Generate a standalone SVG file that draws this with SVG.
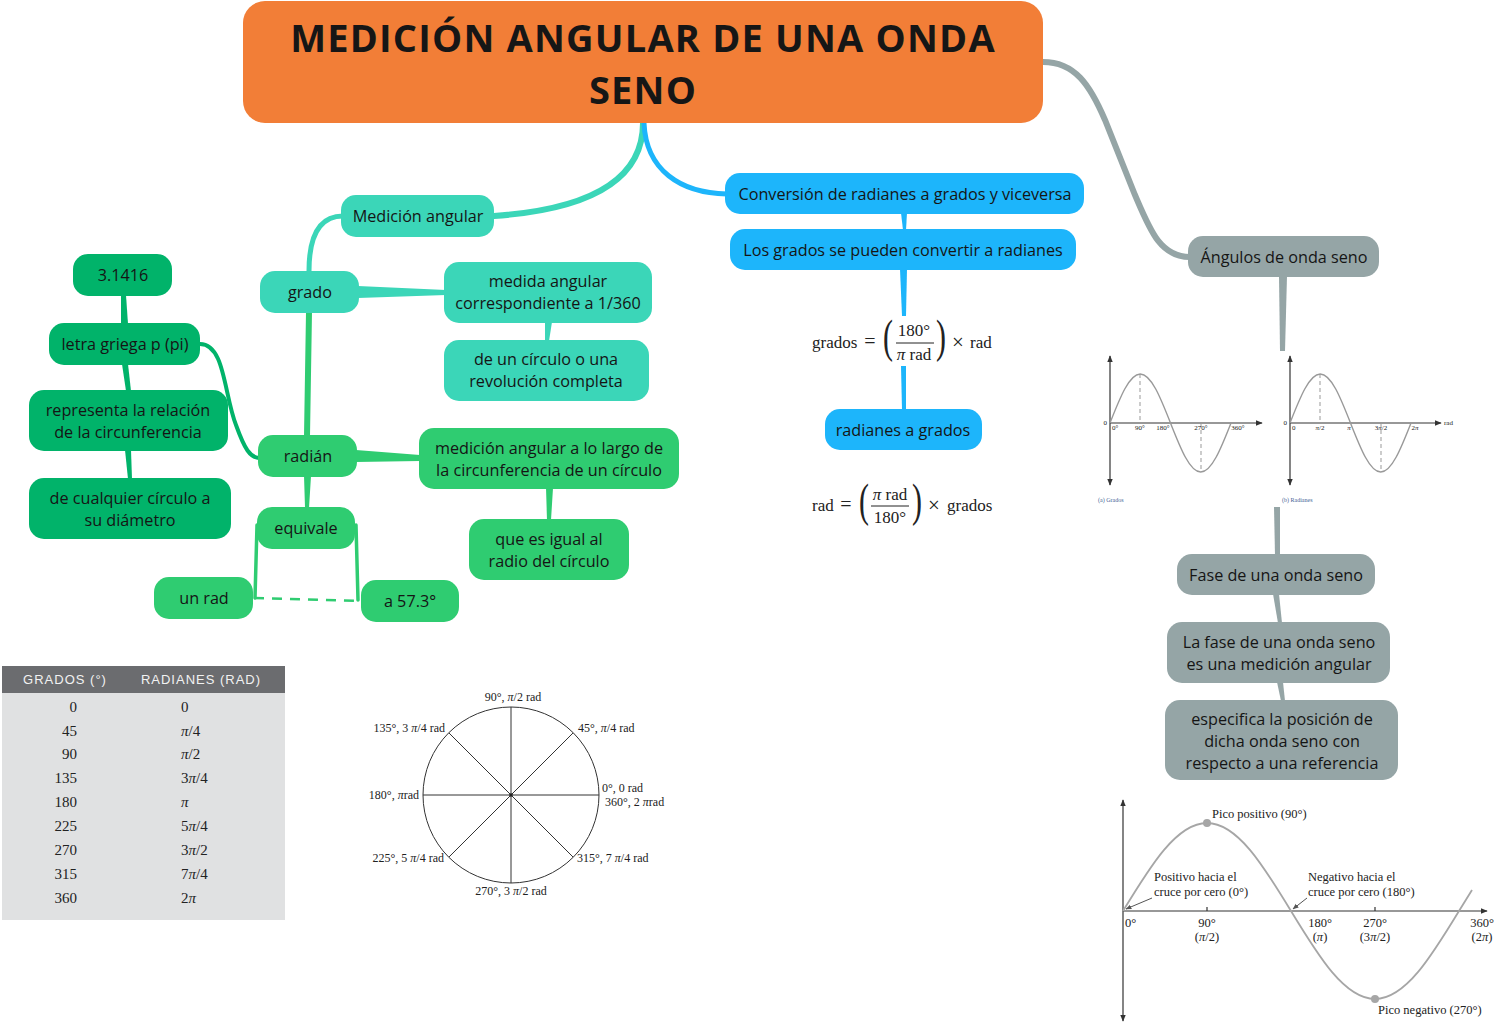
<svg xmlns="http://www.w3.org/2000/svg" width="1497" height="1025" viewBox="0 0 1497 1025">
<defs>
<style>
.n{font-family:"Open Sans","Liberation Sans",sans-serif;font-size:16.2px;fill:#151515;text-anchor:middle}
.teal{fill:#3BD6B8}.green{fill:#2FCC71}.dk{fill:#01B36A}.blue{fill:#1DB5FB}.gray{fill:#95A5A6}
.c{fill:none;stroke-linecap:round}
.s{font-family:"Liberation Serif","Times New Roman",serif;fill:#222}
.ax{stroke:#333;stroke-width:1.2;fill:none}
.sw{stroke:#999;stroke-width:1.4;fill:none}
.dash{stroke:#999;stroke-width:1;stroke-dasharray:4,3;fill:none}
</style>
<marker id="ar" viewBox="0 0 10 10" refX="9" refY="5" markerWidth="6" markerHeight="6" orient="auto-start-reverse"><path d="M0,1 L10,5 L0,9 Z" fill="#333"/></marker>
<marker id="ag" viewBox="0 0 10 10" refX="9" refY="5" markerWidth="6" markerHeight="6" orient="auto"><path d="M0,1 L10,5 L0,9 Z" fill="#555"/></marker>
</defs>
<rect width="1497" height="1025" fill="#fff"/>

<g id="connectors">
<path class="c" d="M643,123 C643,185 580,210 494,216" stroke="#3BD6B8" stroke-width="6"/>
<path class="c" d="M644,123 C646,170 680,193 727,194" stroke="#1DB5FB" stroke-width="5"/>
<path class="c" d="M1043,62 C1075,62 1090,85 1105,120 L1135,195 C1150,230 1160,257 1190,257" stroke="#95A5A6" stroke-width="6"/>
<path class="c" d="M343,216 C320,216 309,235 309,271" stroke="#3BD6B8" stroke-width="5"/>
<path d="M358,286 L446,290 L446,295 L358,298 Z" fill="#3BD6B8"/>
<path d="M545,322 L552,322 L549,341 L545,341 Z" fill="#3BD6B8"/>
<path class="c" d="M309,312 L307,436" stroke="#2FCC71" stroke-width="6"/>
<path d="M356,450 L420,455 L420,461 L356,462 Z" fill="#2FCC71"/>
<path d="M546,488 L553,488 L551,520 L547,520 Z" fill="#2FCC71"/>
<path d="M304,476 L311,476 L309,508 L305,508 Z" fill="#2FCC71"/>
<path class="c" d="M257,525 L255,598" stroke="#2FCC71" stroke-width="3.5"/>
<path class="c" d="M356,525 L358,600" stroke="#2FCC71" stroke-width="3.5"/>
<path d="M254,598 L361,601" stroke="#2FCC71" stroke-width="2.5" stroke-dasharray="10,8" fill="none"/>
<path class="c" d="M200,344 C225,344 224,395 236,425 C245,450 250,457 259,458" stroke="#01B36A" stroke-width="4"/>
<path d="M121,295 L126,295 L128,324 L121,324 Z" fill="#01B36A"/>
<path d="M122,364 L128,364 L131,391 L126,391 Z" fill="#01B36A"/>
<path d="M125,450 L131,450 L132,479 L128,479 Z" fill="#01B36A"/>
<path d="M901,213 L907,213 L906,230 L903,230 Z" fill="#1DB5FB"/>
<path d="M900,269 L907,269 L906,316 L902,316 Z" fill="#1DB5FB"/>
<path d="M901,366 L906,366 L906,410 L902,410 Z" fill="#1DB5FB"/>
<path d="M1279,276 L1287,276 L1285,351 L1280,351 Z" fill="#95A5A6"/>
<path d="M1274,507 L1280,507 L1280,555 L1275,555 Z" fill="#95A5A6"/>
<path d="M1273,594 L1279,594 L1282,623 L1278,623 Z" fill="#95A5A6"/>
<path d="M1277,682 L1283,682 L1285,701 L1281,701 Z" fill="#95A5A6"/>
</g>

<g id="title">
<rect x="243" y="1" width="800" height="122" rx="22" fill="#F27E37"/>
<text font-family="'Open Sans','Liberation Sans',sans-serif" font-weight="bold" font-size="38" letter-spacing="1.2" fill="#161616" text-anchor="middle"><tspan x="643" y="52">MEDICIÓN ANGULAR DE UNA ONDA</tspan><tspan x="643" y="104">SENO</tspan></text>
</g>

<g id="n-medicion"><rect class="teal" x="341" y="195" width="153" height="42" rx="15"/><text class="n" x="418" y="222">Medición angular</text></g>
<g id="n-grado"><rect class="teal" x="260" y="271" width="99" height="42" rx="15"/><text class="n" x="310" y="298">grado</text></g>
<g id="n-medida"><rect class="teal" x="444" y="262" width="208" height="61" rx="15"/><text class="n"><tspan x="548" y="287">medida angular</tspan><tspan x="548" y="309.2">correspondiente a 1/360</tspan></text></g>
<g id="n-circulo"><rect class="teal" x="444" y="340" width="205" height="61" rx="15"/><text class="n"><tspan x="546" y="365">de un círculo o una</tspan><tspan x="546" y="387.2">revolución completa</tspan></text></g>

<g id="n-radian"><rect class="green" x="258" y="435" width="99" height="42" rx="15"/><text class="n" x="308" y="462">radián</text></g>
<g id="n-medlargo"><rect class="green" x="419" y="428" width="260" height="61" rx="15"/><text class="n"><tspan x="549" y="454">medición angular a lo largo de</tspan><tspan x="549" y="476.2">la circunferencia de un círculo</tspan></text></g>
<g id="n-igual"><rect class="green" x="469" y="519" width="160" height="61" rx="15"/><text class="n"><tspan x="549" y="545">que es igual al</tspan><tspan x="549" y="567.2">radio del círculo</tspan></text></g>
<g id="n-equivale"><rect class="green" x="257" y="507" width="98" height="42" rx="15"/><text class="n" x="306" y="534">equivale</text></g>
<g id="n-unrad"><rect class="green" x="154" y="577" width="99" height="42" rx="15"/><text class="n" x="204" y="604">un rad</text></g>
<g id="n-573"><rect class="green" x="361" y="580" width="98" height="42" rx="15"/><text class="n" x="410" y="607">a 57.3°</text></g>

<g id="n-31416"><rect class="dk" x="73" y="254" width="99" height="42" rx="15"/><text class="n" x="123" y="281">3.1416</text></g>
<g id="n-letra"><rect class="dk" x="49" y="323" width="151" height="42" rx="15"/><text class="n" x="125" y="350">letra griega p (pi)</text></g>
<g id="n-representa"><rect class="dk" x="29" y="390" width="199" height="61" rx="15"/><text class="n"><tspan x="128" y="416">representa la relación</tspan><tspan x="128" y="438.2">de la circunferencia</tspan></text></g>
<g id="n-cualquier"><rect class="dk" x="29" y="478" width="202" height="61" rx="15"/><text class="n"><tspan x="130" y="504">de cualquier círculo a</tspan><tspan x="130" y="526.2">su diámetro</tspan></text></g>

<g id="n-conversion"><rect class="blue" x="725" y="173" width="359" height="41" rx="15"/><text class="n" x="905" y="200">Conversión de radianes a grados y viceversa</text></g>
<g id="n-losgrados"><rect class="blue" x="730" y="229" width="346" height="41" rx="15"/><text class="n" x="903" y="256">Los grados se pueden convertir a radianes</text></g>
<g id="n-radgrados"><rect class="blue" x="825" y="409" width="157" height="41" rx="15"/><text class="n" x="903" y="436">radianes a grados</text></g>

<g id="n-angulos"><rect class="gray" x="1188" y="236" width="191" height="41" rx="15"/><text class="n" x="1284" y="263">Ángulos de onda seno</text></g>
<g id="n-fase"><rect class="gray" x="1177" y="554" width="198" height="41" rx="15"/><text class="n" x="1276" y="581">Fase de una onda seno</text></g>
<g id="n-lafase"><rect class="gray" x="1167" y="622" width="223" height="61" rx="15"/><text class="n"><tspan x="1279" y="648">La fase de una onda seno</tspan><tspan x="1279" y="670.2">es una medición angular</tspan></text></g>
<g id="n-especifica"><rect class="gray" x="1165" y="700" width="233" height="80" rx="15"/><text class="n"><tspan x="1282" y="725">especifica la posición de</tspan><tspan x="1282" y="747.2">dicha onda seno con</tspan><tspan x="1282" y="769.4">respecto a una referencia</tspan></text></g>

<g id="formula1" class="s" font-size="17">
<text x="812" y="348">grados</text>
<text x="870" y="348" text-anchor="middle" font-size="20">=</text>
<text transform="translate(883,352) scale(0.65,1)" font-size="46">(</text>
<text text-anchor="middle"><tspan x="914" y="336">180°</tspan><tspan x="914" y="360"><tspan font-style="italic">π</tspan> rad</tspan></text>
<line x1="896" y1="343" x2="934" y2="343" stroke="#222" stroke-width="1"/>
<text transform="translate(936,352) scale(0.65,1)" font-size="46">)</text>
<text x="952" y="349" font-size="21">×</text>
<text x="970" y="348">rad</text>
</g>
<g id="formula2" class="s" font-size="17">
<text x="812" y="511">rad</text>
<text x="846" y="511" text-anchor="middle" font-size="20">=</text>
<text transform="translate(859,516) scale(0.65,1)" font-size="46">(</text>
<text text-anchor="middle"><tspan x="890" y="500"><tspan font-style="italic">π</tspan> rad</tspan><tspan x="890" y="523">180°</tspan></text>
<line x1="871" y1="506" x2="909" y2="506" stroke="#222" stroke-width="1"/>
<text transform="translate(912,516) scale(0.65,1)" font-size="46">)</text>
<text x="928" y="512" font-size="21">×</text>
<text x="947" y="511">grados</text>
</g>

<g id="graph-grados">
<line class="ax" x1="1110" y1="485" x2="1110" y2="356" marker-end="url(#ar)" marker-start="url(#ar)"/>
<line class="ax" x1="1110" y1="423" x2="1262" y2="423" marker-end="url(#ar)"/>
<path class="sw" d="M1110,423 C1119.9,397.9 1129.3,374 1140.25,374 C1151.2,374 1160.6,397.9 1170.5,423 C1180.4,448.1 1189.8,472 1200.75,472 C1211.7,472 1221.1,448.1 1231,423"/>
<line class="dash" x1="1140" y1="374" x2="1140" y2="423"/>
<line class="dash" x1="1201" y1="423" x2="1201" y2="472"/>
<g class="s" font-size="7">
<text x="1107" y="425" text-anchor="end">0</text>
<text x="1112" y="430">0°</text>
<text x="1140" y="430" text-anchor="middle">90°</text>
<text x="1163" y="430" text-anchor="middle">180°</text>
<text x="1201" y="430" text-anchor="middle">270°</text>
<text x="1238" y="430" text-anchor="middle">360°</text>
<text x="1098" y="502" font-size="6" fill="#3f5f95">(a) Grados</text>
</g>
</g>
<g id="graph-radianes">
<line class="ax" x1="1290" y1="485" x2="1290" y2="356" marker-end="url(#ar)" marker-start="url(#ar)"/>
<line class="ax" x1="1290" y1="423" x2="1441" y2="423" marker-end="url(#ar)"/>
<path class="sw" d="M1290,423 C1299.9,397.9 1309.3,374 1320.25,374 C1331.2,374 1340.6,397.9 1350.5,423 C1360.4,448.1 1369.8,472 1380.75,472 C1391.7,472 1401.1,448.1 1411,423"/>
<line class="dash" x1="1320" y1="374" x2="1320" y2="423"/>
<line class="dash" x1="1381" y1="423" x2="1381" y2="472"/>
<g class="s" font-size="7">
<text x="1287" y="425" text-anchor="end">0</text>
<text x="1292" y="430">0</text>
<text x="1320" y="430" text-anchor="middle"><tspan font-style="italic">π</tspan>/2</text>
<text x="1349" y="430" text-anchor="middle" font-style="italic">π</text>
<text x="1381" y="430" text-anchor="middle">3<tspan font-style="italic">π</tspan>/2</text>
<text x="1415" y="430" text-anchor="middle">2<tspan font-style="italic">π</tspan></text>
<text x="1444" y="425">rad</text>
<text x="1282" y="502" font-size="6" fill="#3f5f95">(b) Radianes</text>
</g>
</g>

<g id="graph-fase">
<line class="ax" x1="1123" y1="1021" x2="1123" y2="800" marker-end="url(#ar)" marker-start="url(#ar)"/>
<line class="ax" x1="1123" y1="911" x2="1487" y2="911" marker-end="url(#ar)"/>
<line class="ax" x1="1207" y1="907" x2="1207" y2="911"/>
<line class="ax" x1="1375" y1="907" x2="1375" y2="911"/>
<path d="M1123,911 C1150.4,865.9 1176.6,823 1207,823 C1237.4,823 1263.6,865.9 1291,911 C1318.4,956.1 1344.6,999 1375,999 C1405.4,999 1431.6,956.1 1459,911 L1472,890" fill="none" stroke="#a6a6a6" stroke-width="1.8"/>
<circle cx="1207" cy="823" r="4" fill="#a6a6a6"/>
<circle cx="1375" cy="999" r="4" fill="#a6a6a6"/>
<line x1="1152" y1="898" x2="1126" y2="909" stroke="#555" stroke-width="1" marker-end="url(#ag)"/>
<line x1="1307" y1="898" x2="1293" y2="909" stroke="#555" stroke-width="1" marker-end="url(#ag)"/>
<g class="s" font-size="12.5">
<text x="1212" y="818">Pico positivo (90°)</text>
<text><tspan x="1154" y="881">Positivo hacia el</tspan><tspan x="1154" y="896">cruce por cero (0°)</tspan></text>
<text><tspan x="1308" y="881">Negativo hacia el</tspan><tspan x="1308" y="896">cruce por cero (180°)</tspan></text>
<text x="1125" y="927">0°</text>
<text text-anchor="middle"><tspan x="1207" y="927">90°</tspan><tspan x="1207" y="941">(<tspan font-style="italic">π</tspan>/2)</tspan></text>
<text text-anchor="middle"><tspan x="1320" y="927">180°</tspan><tspan x="1320" y="941">(<tspan font-style="italic">π</tspan>)</tspan></text>
<text text-anchor="middle"><tspan x="1375" y="927">270°</tspan><tspan x="1375" y="941">(3<tspan font-style="italic">π</tspan>/2)</tspan></text>
<text text-anchor="middle"><tspan x="1482" y="927">360°</tspan><tspan x="1482" y="941">(2<tspan font-style="italic">π</tspan>)</tspan></text>
<text x="1378" y="1014">Pico negativo (270°)</text>
</g>
</g>

<g id="table">
<rect x="2" y="666" width="283" height="27" fill="#6B6C6F"/>
<rect x="2" y="693" width="283" height="227" fill="#E0E1E2"/>
<text x="65" y="684" font-family="'Liberation Sans',sans-serif" font-size="13" letter-spacing="1" fill="#f2f2f2" text-anchor="middle">GRADOS (°)</text>
<text x="201" y="684" font-family="'Liberation Sans',sans-serif" font-size="13" letter-spacing="1" fill="#f2f2f2" text-anchor="middle">RADIANES (RAD)</text>
<g class="s" font-size="15">
<g text-anchor="end">
<text x="77" y="712">0</text><text x="77" y="736">45</text><text x="77" y="759">90</text><text x="77" y="783">135</text><text x="77" y="807">180</text><text x="77" y="831">225</text><text x="77" y="855">270</text><text x="77" y="879">315</text><text x="77" y="903">360</text>
</g>
<text x="181" y="712">0</text>
<text x="181" y="736"><tspan font-style="italic">π</tspan>/4</text>
<text x="181" y="759"><tspan font-style="italic">π</tspan>/2</text>
<text x="181" y="783">3<tspan font-style="italic">π</tspan>/4</text>
<text x="181" y="807" font-style="italic">π</text>
<text x="181" y="831">5<tspan font-style="italic">π</tspan>/4</text>
<text x="181" y="855">3<tspan font-style="italic">π</tspan>/2</text>
<text x="181" y="879">7<tspan font-style="italic">π</tspan>/4</text>
<text x="181" y="903">2<tspan font-style="italic">π</tspan></text>
</g>
</g>

<g id="circle">
<circle cx="511" cy="795" r="88" fill="none" stroke="#333" stroke-width="1"/>
<line x1="423" y1="795" x2="599" y2="795" stroke="#333" stroke-width="1"/>
<line x1="511" y1="707" x2="511" y2="883" stroke="#333" stroke-width="1"/>
<line x1="448.8" y1="732.8" x2="573.2" y2="857.2" stroke="#333" stroke-width="1"/>
<line x1="573.2" y1="732.8" x2="448.8" y2="857.2" stroke="#333" stroke-width="1"/>
<circle cx="511" cy="795" r="1.8" fill="#222"/>
<g class="s" font-size="12">
<text x="513" y="701" text-anchor="middle">90°, <tspan font-style="italic">π</tspan>/2 rad</text>
<text x="578" y="732">45°, <tspan font-style="italic">π</tspan>/4 rad</text>
<text x="445" y="732" text-anchor="end">135°, 3 <tspan font-style="italic">π</tspan>/4 rad</text>
<text><tspan x="602" y="792">0°, 0 rad</tspan><tspan x="605" y="806">360°, 2 <tspan font-style="italic">π</tspan>rad</tspan></text>
<text x="419" y="799" text-anchor="end">180°, <tspan font-style="italic">π</tspan>rad</text>
<text x="444" y="862" text-anchor="end">225°, 5 <tspan font-style="italic">π</tspan>/4 rad</text>
<text x="577" y="862">315°, 7 <tspan font-style="italic">π</tspan>/4 rad</text>
<text x="511" y="895" text-anchor="middle">270°, 3 <tspan font-style="italic">π</tspan>/2 rad</text>
</g>
</g>
</svg>
